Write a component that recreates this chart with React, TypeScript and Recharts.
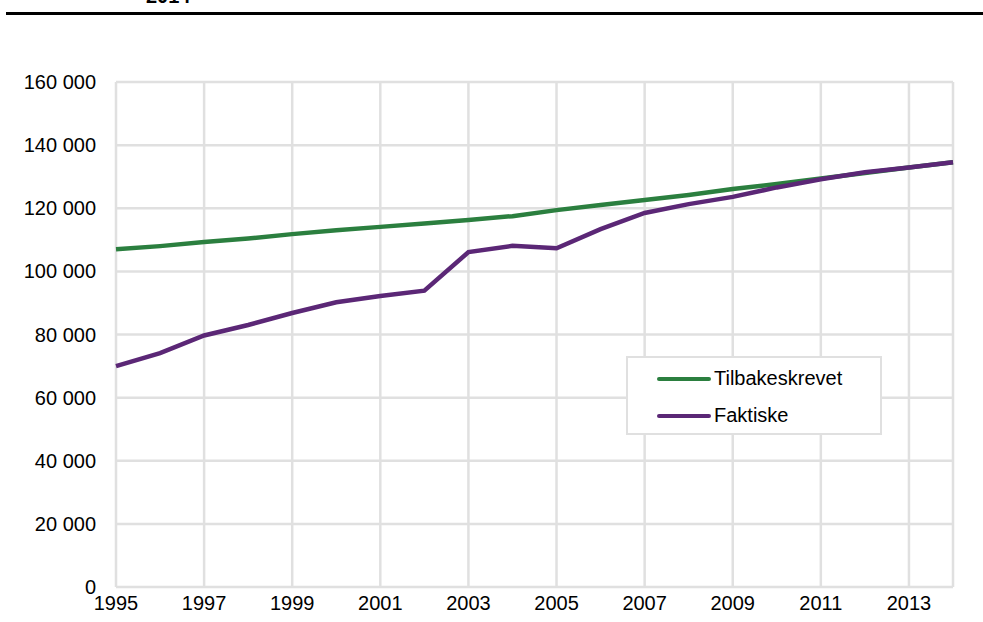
import React from 'react';
import { LineChart, Line, XAxis, YAxis, CartesianGrid } from 'recharts';

const years = [
  1995, 1996, 1997, 1998, 1999, 2000, 2001, 2002, 2003, 2004,
  2005, 2006, 2007, 2008, 2009, 2010, 2011, 2012, 2013, 2014,
];

const tilbakeskrevet = [
  107000, 108000, 109300, 110400, 111800, 113000, 114100, 115200, 116300, 117500,
  119400, 121000, 122600, 124200, 126100, 127700, 129400, 131200, 132900, 134600,
];

const faktiske = [
  70000, 74100, 79700, 83000, 86800, 90200, 92200, 93900, 106100, 108100,
  107300, 113400, 118500, 121300, 123600, 126600, 129200, 131400, 132900, 134600,
];

const yTicks = [0, 20000, 40000, 60000, 80000, 100000, 120000, 140000, 160000];

const GREEN = '#2b7f3f';
const PURPLE = '#5b2776';
const GRID = '#e0e0e0';
const FONT = '"Liberation Sans", Arial, sans-serif';

const series = [
  { key: 'tilbake', name: 'Tilbakeskrevet', color: GREEN },
  { key: 'faktiske', name: 'Faktiske', color: PURPLE },
];

const data = years.map((y, i) => ({
  year: y,
  tilbake: tilbakeskrevet[i],
  faktiske: faktiske[i],
}));

function fmt(n: number): string {
  return String(n).replace(/\B(?=(\d{3})+(?!\d))/g, ' ');
}

// legend box drawn outside the chart so it doesn't eat plot height
function LegendBox() {
  return (
    <div
      style={{
        position: 'absolute',
        left: 626,
        top: 356,
        width: 252,
        height: 73,
        border: '2px solid #e0e0e0',
        background: '#fff',
        fontFamily: FONT,
        fontSize: 20,
        color: '#000',
        paddingTop: 2,
      }}
    >
      {series.map(s => (
        <div key={s.key} style={{ display: 'flex', alignItems: 'center', height: 37, paddingLeft: 29 }}>
          <div style={{ width: 54, height: 4, borderRadius: 2, background: s.color, marginRight: 3 }} />
          <span>{s.name}</span>
        </div>
      ))}
    </div>
  );
}

export default function App() {
  return (
    <div style={{ position: 'absolute', left: 0, top: 0, width: 983, height: 622, overflow: 'hidden', background: '#fff' }}>
      <div
        style={{
          position: 'absolute',
          left: 146,
          top: -14,
          fontFamily: FONT,
          fontWeight: 700,
          fontSize: 20,
          lineHeight: '20px',
        }}
      >
        2014
      </div>
      <div style={{ position: 'absolute', left: 6, top: 12, width: 977, height: 3, background: '#000' }} />
      <LineChart
        width={983}
        height={622}
        data={data}
        margin={{ top: 82, right: 30, left: 0, bottom: 5 }}
        style={{ fontFamily: FONT }}
      >
        <CartesianGrid stroke={GRID} strokeWidth={2.5} />
        <XAxis
          dataKey="year"
          interval={1}
          axisLine={false}
          tickLine={false}
          tickSize={0}
          tickMargin={9}
          height={30}
          tick={{ fill: '#000', fontSize: 20 }}
        />
        <YAxis
          domain={[0, 160000]}
          ticks={yTicks}
          width={116}
          axisLine={false}
          tickLine={false}
          tickSize={0}
          tickMargin={20}
          tickFormatter={fmt}
          tick={{ fill: '#000', fontSize: 20 }}
        />
        {series.map(s => (
          <Line
            key={s.key}
            type="linear"
            dataKey={s.key}
            name={s.name}
            stroke={s.color}
            strokeWidth={4.5}
            dot={false}
            isAnimationActive={false}
          />
        ))}
      </LineChart>
      <LegendBox />
    </div>
  );
}
